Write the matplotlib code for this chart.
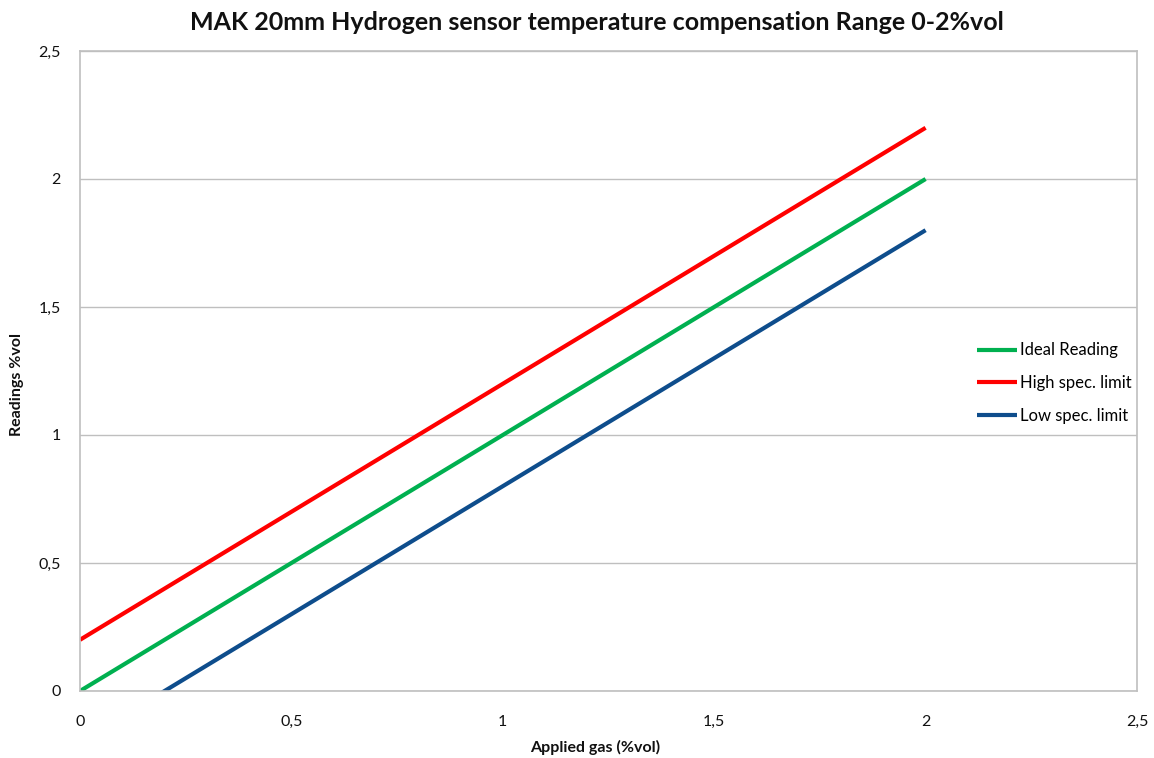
import matplotlib
matplotlib.use("Agg")
import matplotlib.pyplot as plt
from matplotlib.ticker import FuncFormatter, MultipleLocator

plt.rcParams['font.family'] = ['Lato', 'DejaVu Sans']

x_vals = [0, 2]
ideal = [0, 2]
high = [0.2, 2.2]
low = [-0.2, 1.8]
series_names = ["Ideal Reading", "High spec. limit", "Low spec. limit"]
colors = ["#00B050", "#FF0000", "#0E4D8C"]

fig = plt.figure(figsize=(11.54, 7.58), dpi=100)
ax = fig.add_axes([80/1154, 1-691/758, (1137-80)/1154, (691-51)/758])

for ys, name, c in zip([ideal, high, low], series_names, colors):
    ax.plot(x_vals, ys, color=c, lw=3.0, label=name, solid_capstyle='butt')

ax.set_xlim(0, 2.5)
ax.set_ylim(0, 2.5)
ax.xaxis.set_major_locator(MultipleLocator(0.5))
ax.yaxis.set_major_locator(MultipleLocator(0.5))
fmt = FuncFormatter(lambda v, p: ("%g" % v).replace(".", ","))
ax.xaxis.set_major_formatter(fmt)
ax.yaxis.set_major_formatter(fmt)
ax.tick_params(length=0, labelsize=11.5, colors="#111111")
ax.tick_params(axis='x', pad=17)
ax.tick_params(axis='y', pad=14)
ax.grid(axis='y', color="#BFBFBF", lw=1)
ax.set_axisbelow(True)
for s in ax.spines.values():
    s.set_color("#BFBFBF")
    s.set_linewidth(1.2)

fig.text(595/1154, 1-747/758, "Applied gas (%vol)", ha='center', va='center',
         fontsize=11.5, fontweight='bold', color="#111111")
fig.text(17/1154, 1-384/758, "Readings %vol", ha='center', va='center', rotation=90,
         fontsize=11.5, fontweight='bold', color="#111111")
fig.text(597/1154, 1-22/758, "MAK 20mm Hydrogen sensor temperature compensation Range 0-2%vol",
         ha='center', va='center', fontsize=18, fontweight='bold', color="#111111")

leg = ax.legend(loc='center left', bbox_to_anchor=(962/1154, 1-383/758),
                bbox_transform=fig.transFigure, frameon=False, fontsize=12,
                handlelength=2.4, handletextpad=0.15, labelspacing=1.0)

fig.savefig("out.png", dpi=100, facecolor='white')
